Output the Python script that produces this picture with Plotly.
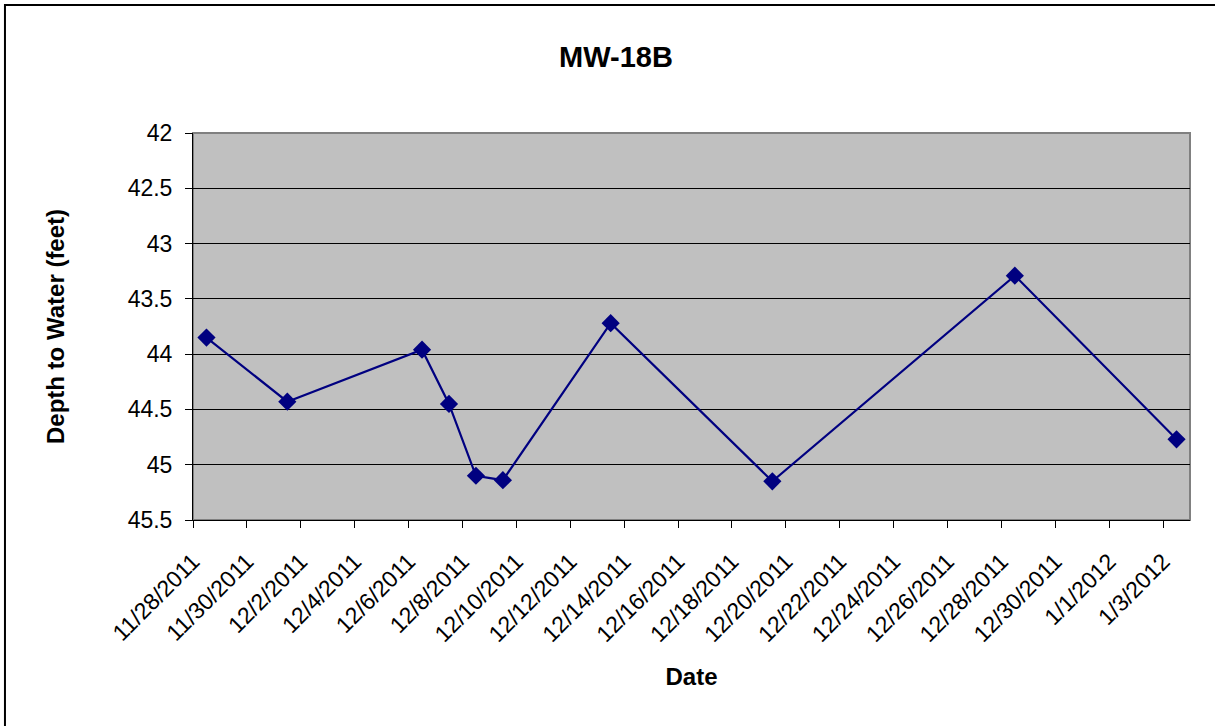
import pandas as pd
import plotly.graph_objects as go

# MW-18B water level readings
dates = ["2011-11-28", "2011-12-01", "2011-12-06", "2011-12-07", "2011-12-08",
         "2011-12-09", "2011-12-13", "2011-12-19", "2011-12-28", "2012-01-03"]
depth_ft = [43.85, 44.43, 43.96, 44.45, 45.10, 45.14, 43.72, 45.15, 43.29, 44.77]

tick_start = "2011-11-28"
tick_end = "2012-01-03"
y_ticks = [42, 42.5, 43, 43.5, 44, 44.5, 45, 45.5]

NAVY = "#000080"
FONT = "Liberation Sans, Arial, sans-serif"


def main():
    # excel date axes put each point in the middle of its day
    x = pd.to_datetime(dates) + pd.Timedelta(hours=12)
    ticks = pd.date_range(tick_start, tick_end, freq="2D")
    tick_text = [f"{d.month}/{d.day}/{d.year}" for d in ticks]

    fig = go.Figure()
    fig.add_trace(go.Scatter(
        x=x, y=depth_ft, mode="lines+markers",
        line=dict(color=NAVY, width=2.2),
        marker=dict(symbol="diamond", size=14, color=NAVY),
        showlegend=False,
    ))

    fig.update_layout(
        width=1215, height=726,
        margin=dict(l=193, r=25, t=133, b=206),
        paper_bgcolor="white", plot_bgcolor="#C0C0C0",
        font=dict(family=FONT, size=23, color="black"),
        title=dict(text="<b>MW-18B</b>", x=0.507, xref="container",
                   y=0.9215, yref="container", yanchor="middle",
                   font=dict(size=29)),
    )
    fig.update_xaxes(
        range=[pd.Timestamp(tick_start), pd.Timestamp(tick_end) + pd.Timedelta(days=1)],
        tickvals=ticks, ticktext=tick_text, tickangle=-45,
        ticks="outside", ticklen=7, tickcolor="black", ticklabelstandoff=11,
        showgrid=False, zeroline=False,
        showline=True, linecolor="black", linewidth=1,
        title=dict(text="<b>Date</b>", font=dict(size=24), standoff=22),
    )
    fig.update_yaxes(
        range=[45.5, 42], tickvals=y_ticks,
        ticks="outside", ticklen=7, tickcolor="black", ticklabelstandoff=8,
        showgrid=True, gridcolor="black", gridwidth=1, zeroline=False,
        showline=True, linecolor="black", linewidth=1,
        title=dict(text="<b>Depth to Water (feet)</b>", font=dict(size=24), standoff=56),
    )

    # gray plot-area frame and the outer chart border
    fig.add_shape(type="rect", xref="paper", yref="paper", x0=0, y0=0, x1=1, y1=1,
                  line=dict(color="#808080", width=2), layer="below")
    fig.add_shape(type="rect", xref="paper", yref="paper",
                  x0=-0.1886, y0=-0.62, x1=1.1, y1=1.3307,
                  line=dict(color="black", width=2))

    # drop the default body margin so the chart sits flush in the window
    fig.write_html("out.html", config={"displayModeBar": False},
                   post_script="document.body.style.margin = '0';")


if __name__ == "__main__":
    main()
